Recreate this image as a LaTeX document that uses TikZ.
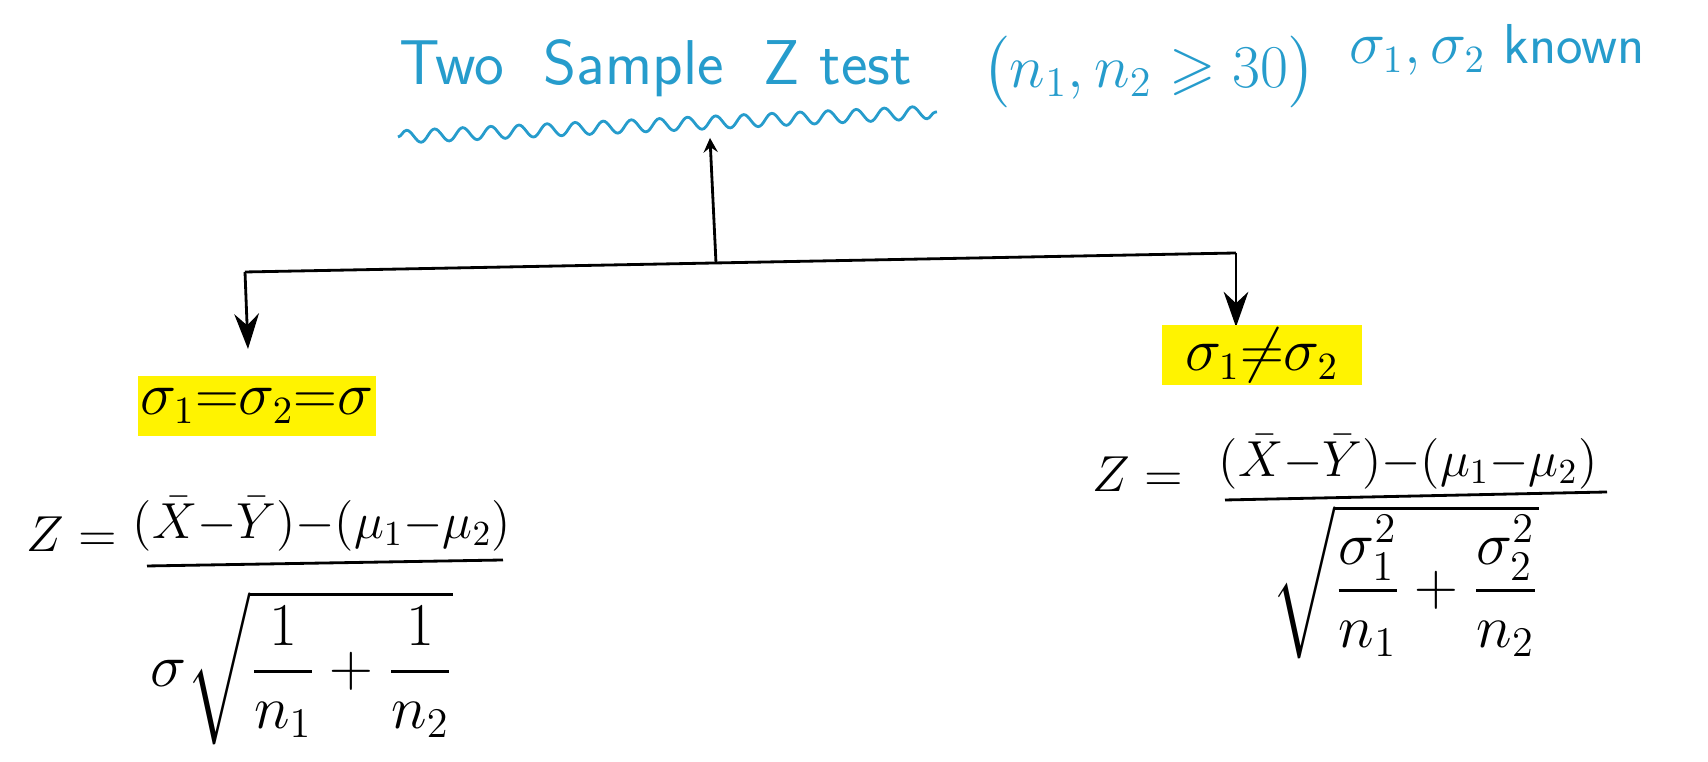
\documentclass[tikz,border=0pt]{standalone}
\usepackage{amsmath}
\usepackage{amssymb}
\usepackage{tikz}
\usepackage{xcolor}
\usetikzlibrary{arrows.meta,decorations.pathmorphing}
\definecolor{penblue}{RGB}{38,156,204}
\definecolor{marker}{RGB}{255,243,0}

\begin{document}
\begin{tikzpicture}[x=0.01cm, y=-0.01cm, thick, >=stealth,
    ttl/.style={text=penblue, font=\fontsize{18}{22}\selectfont\sffamily, inner sep=0pt},
    hl/.style={fill=marker, inner sep=0pt, minimum height=0.6cm, font=\fontsize{16}{19}\selectfont},
    eq/.style={inner sep=0pt, font=\fontsize{14}{17}\selectfont},
    den/.style={inner sep=0pt, font=\fontsize{18}{22}\selectfont}]
    \useasboundingbox (0,0) rectangle (1708,762);
    % title
    \node[ttl] (title) at (656,68) {Two\ \ Sample\ \ Z test};
    \node[ttl, font=\fontsize{17}{20}\selectfont] (cond) at (1149,72) {$\bigl(n_1, n_2 \geqslant 30\bigr)$};
    \node[ttl, font=\fontsize{16}{19}\selectfont\sffamily] (known) at (1497,50) {$\sigma_1, \sigma_2$ known};
    \draw[penblue, decorate, decoration={snake, amplitude=1.8pt, segment length=8pt}] (398,137) -- (937,112);
    % branches
    \coordinate (under) at (710,138);
    \coordinate (split) at (716,263);
    \coordinate (lcorner) at (245,272);
    \coordinate (rcorner) at (1236,253);
    \coordinate (ltip) at (248,349);
    \coordinate (rtip) at (1236,327);
    \draw[->] (split) -- (under);
    \draw (lcorner) -- (rcorner);
    \draw[-{Stealth[length=10pt,width=7pt]}] (lcorner) -- (ltip);
    \draw[-{Stealth[length=10pt,width=7pt]}] (rcorner) -- (rtip);
    \node[hl, minimum width=2.37cm] (eqL) at (257,406) {$\sigma_1{=}\sigma_2{=}\sigma$};
    \node[hl, minimum width=1.99cm] (neqR) at (1262,355) {$\sigma_1{\neq}\sigma_2$};
    % equal variances
    \node[eq] (zL) at (72,534) {$Z =$};
    \node[eq] (numL) at (322,524) {$(\bar{X}{-}\bar{Y}){-}(\mu_1{-}\mu_2)$};
    \draw (147,566) -- (503,560);
    \node[den] (denL) at (302,668) {$\sigma\sqrt{\dfrac{1}{n_1}+\dfrac{1}{n_2}}$};
    % unequal variances
    \node[eq] (zR) at (1138,474) {$Z =$};
    \node[eq] (numR) at (1408,462) {$(\bar{X}{-}\bar{Y}){-}(\mu_1{-}\mu_2)$};
    \draw (1225,500) -- (1607,492);
    \node[den] (denR) at (1405,582) {$\sqrt{\dfrac{\sigma_1^2}{n_1}+\dfrac{\sigma_2^2}{n_2}}$};
\end{tikzpicture}
\end{document}
